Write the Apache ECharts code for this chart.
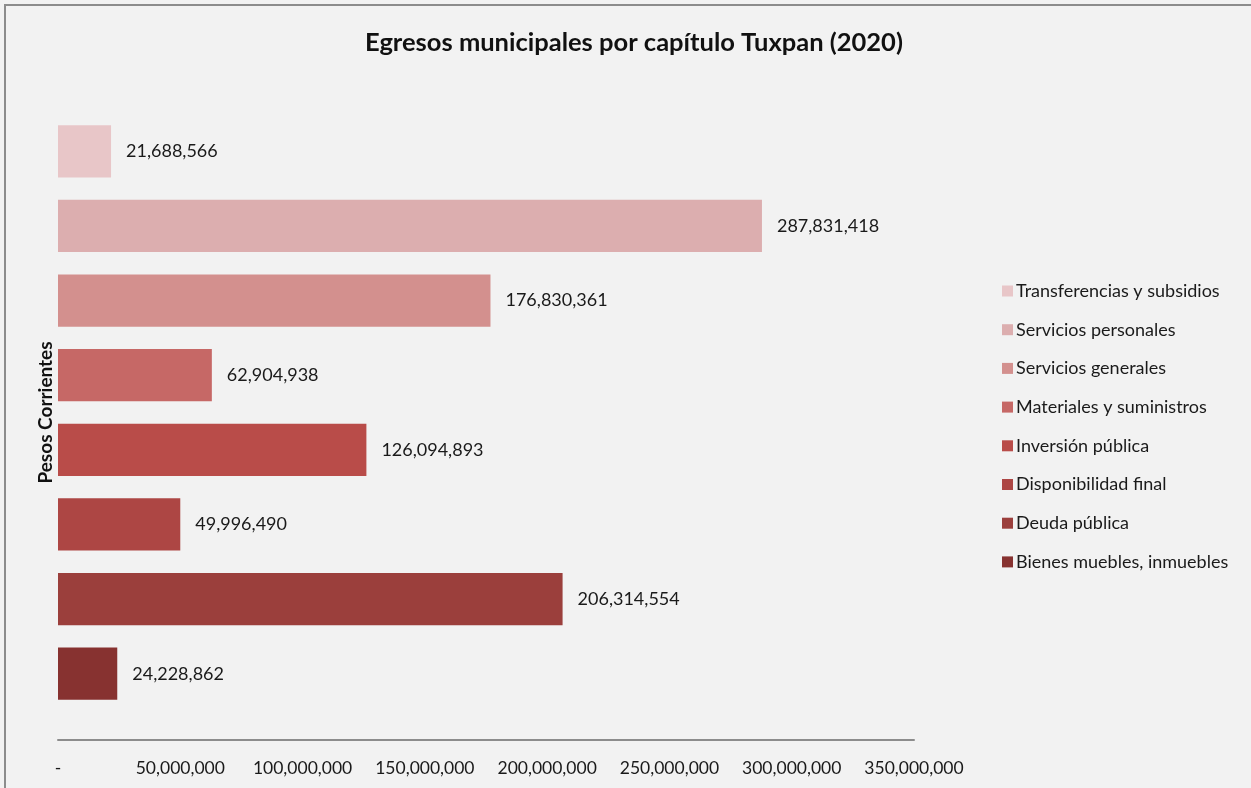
<!DOCTYPE html>
<html>
<head>
<meta charset="utf-8">
<script src="https://cdn.jsdelivr.net/npm/echarts@6/dist/echarts.min.js"></script>
<style>
  html, body { margin: 0; padding: 0; background: #f2f2f2; }
  #chart { width: 1251px; height: 788px; }
</style>
</head>
<body>
<div id="chart"></div>
<script>
// ---- data ----
var categories = [
  "Transferencias y subsidios",
  "Servicios personales",
  "Servicios generales",
  "Materiales y suministros",
  "Inversión pública",
  "Disponibilidad final",
  "Deuda pública",
  "Bienes muebles, inmuebles"
];
var values = [21688566, 287831418, 176830361, 62904938, 126094893, 49996490, 206314554, 24228862];
var colors = ["#e8c6c8", "#dcaeaf", "#d3908e", "#c66866", "#b94c49", "#ad4644", "#9b3f3c", "#873230"];
var xTicks = { min: 0, max: 350000000, interval: 50000000 };

var FONT = "Lato, 'Open Sans', sans-serif";

function fmt(v) {
  return v === 0 ? "-" : v.toString().replace(/\B(?=(\d{3})+(?!\d))/g, ",");
}

// one series per capítulo, each only filled in its own row
var series = categories.map(function(name, i) {
  var d = categories.map(function(c, j) { return j === i ? values[i] : "-"; });
  return {
    name: name,
    type: "bar",
    stack: "all",
    barCategoryGap: "30%",
    data: d,
    itemStyle: { color: colors[i] },
    label: {
      show: true,
      position: "right",
      distance: 15,
      color: "#1a1a1a",
      fontFamily: FONT,
      fontSize: 18,
      formatter: function(p) { return fmt(p.value); }
    }
  };
});

var chart = echarts.init(document.getElementById("chart"));
chart.setOption({
  backgroundColor: "#f2f2f2",
  animation: false,
  graphic: [{
    type: "rect",
    shape: { x: 5, y: 5, width: 1300, height: 900 },
    style: { fill: "none", stroke: "#8c8c8c", lineWidth: 2 },
    silent: true
  }],
  title: {
    text: "Egresos municipales por capítulo Tuxpan (2020)",
    left: 629, top: 25, textAlign: "center",
    textStyle: { fontFamily: FONT, fontSize: 25.5, fontWeight: "bold", color: "#111" }
  },
  legend: {
    orient: "vertical",
    left: 997, top: 276,
    itemWidth: 11, itemHeight: 11, itemGap: 18.7,
    icon: "rect",
    textStyle: { fontFamily: FONT, fontSize: 18, lineHeight: 20, color: "#1a1a1a", padding: [0, 0, 0, -2] },
    data: categories
  },
  grid: { left: 58, right: 337, top: 114, bottom: 77 },
  xAxis: {
    type: "value",
    min: xTicks.min, max: xTicks.max, interval: xTicks.interval,
    offset: 29,
    splitLine: { show: false },
    axisLine: { show: true, lineStyle: { color: "#8c8c8c", width: 2 } },
    axisTick: { show: false },
    axisLabel: {
      margin: 19,
      fontFamily: FONT, fontSize: 17.5, color: "#1a1a1a",
      formatter: fmt
    }
  },
  yAxis: {
    type: "category",
    inverse: true,
    data: categories,
    axisLine: { show: false },
    axisTick: { show: false },
    axisLabel: { show: false },
    name: "Pesos Corrientes",
    nameLocation: "middle",
    nameRotate: 90,
    nameGap: 3,
    nameTextStyle: { fontFamily: FONT, fontSize: 19, fontWeight: "bold", color: "#111" }
  },
  series: series
});
</script>
</body>
</html>
